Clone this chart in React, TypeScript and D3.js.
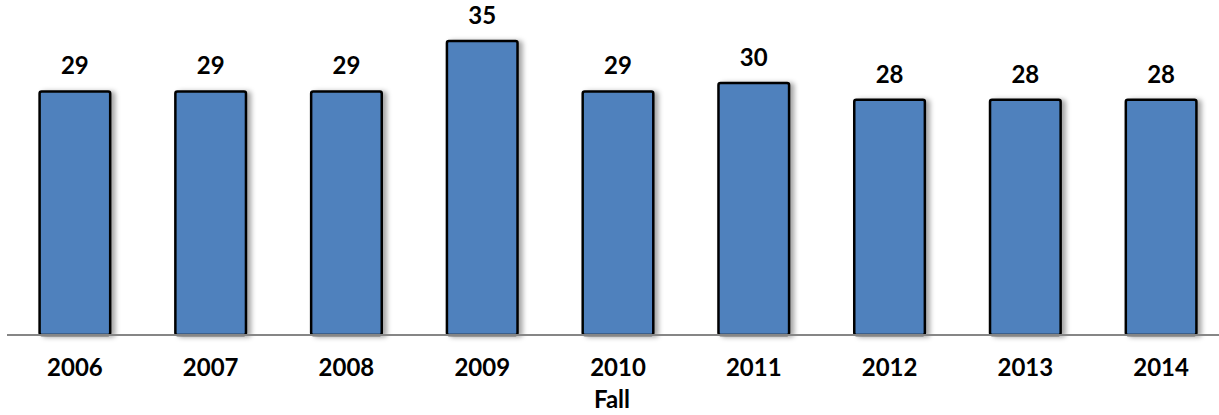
import * as d3 from "d3";
import { useEffect, useRef } from "react";

const years = ["2006", "2007", "2008", "2009", "2010", "2011", "2012", "2013", "2014"];
const values = [29, 29, 29, 35, 29, 30, 28, 28, 28];
const axisTitle = "Fall";

export default function App(): JSX.Element {
  const svgRef = useRef<SVGSVGElement>(null);

  useEffect(() => {
    if (!svgRef.current) return;
    const width = 1219;
    const height = 415;
    const baseY = 335;

    const svg = d3.select(svgRef.current);
    svg.selectAll("*").remove();
    svg.attr("width", width).attr("height", height);

    const defs = svg.append("defs");
    const filter = defs
      .append("filter")
      .attr("id", "shadow")
      .attr("x", "-20%")
      .attr("y", "-20%")
      .attr("width", "150%")
      .attr("height", "140%");
    filter
      .append("feDropShadow")
      .attr("dx", 4)
      .attr("dy", 1)
      .attr("stdDeviation", 2.5)
      .attr("flood-color", "#000")
      .attr("flood-opacity", 0.35);

    const xScale = d3
      .scaleBand()
      .domain(years)
      .range([7, 1229])
      .paddingInner(0.48)
      .paddingOuter(0.24);

    const yScale = d3.scaleLinear().domain([0, 35]).range([baseY, 41]);

    const font = "Lato, 'Open Sans', sans-serif";

    const bars = svg.append("g");
    years.forEach((yr, i) => {
      const v = values[i];
      const x = xScale(yr)!;
      bars
        .append("rect")
        .attr("x", x)
        .attr("y", yScale(v))
        .attr("width", xScale.bandwidth())
        .attr("height", yScale(0) - yScale(v))
        .attr("fill", "#4f81bd")
        .attr("stroke", "#000")
        .attr("stroke-width", 2.5)
        .attr("rx", 2)
        .attr("filter", "url(#shadow)");

      svg
        .append("text")
        .attr("x", x + xScale.bandwidth() / 2)
        .attr("y", yScale(v) - 17)
        .attr("text-anchor", "middle")
        .style("font-family", font)
        .style("font-weight", 700)
        .style("font-size", "24px")
        .style("fill", "#000")
        .text(v);
    });

    svg
      .append("line")
      .attr("x1", 7)
      .attr("x2", width)
      .attr("y1", baseY)
      .attr("y2", baseY)
      .attr("stroke", "#868686")
      .attr("stroke-width", 2);

    const axis = svg
      .append("g")
      .attr("transform", `translate(0,${baseY})`)
      .call(d3.axisBottom(xScale).tickSize(0).tickPadding(0));
    axis.select(".domain").remove();
    axis
      .selectAll("text")
      .attr("dy", null)
      .attr("y", 41)
      .style("font-family", font)
      .style("font-weight", 700)
      .style("font-size", "24px")
      .style("fill", "#000");

    svg
      .append("text")
      .attr("x", 612)
      .attr("y", 408)
      .attr("text-anchor", "middle")
      .style("font-family", font)
      .style("font-weight", 700)
      .style("font-size", "24px")
      .style("fill", "#000")
      .text(axisTitle);
  }, []);

  return (
    <div style={{ position: "absolute", left: 0, top: 0 }}>
      <svg ref={svgRef} style={{ display: "block" }} />
    </div>
  );
}
